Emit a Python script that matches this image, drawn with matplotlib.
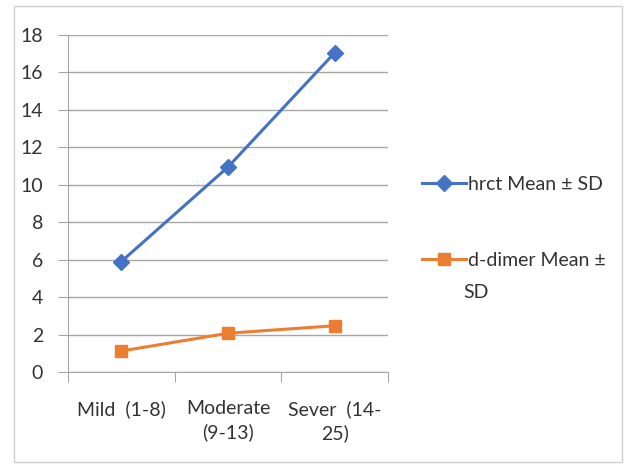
import matplotlib.pyplot as plt
from matplotlib.patches import Rectangle

categories = ['Mild  (1-8)', 'Moderate\n(9-13)', 'Sever  (14-\n25)']
hrct = [5.9, 10.95, 17.05]
ddimer = [1.12, 2.07, 2.47]
series_labels = ['hrct Mean ± SD', 'd-dimer Mean ±']

plt.rcParams['font.family'] = ['Lato', 'DejaVu Sans']

fig = plt.figure(figsize=(6.29, 4.68), dpi=100)
ax = fig.add_axes([68 / 629, 1 - 372 / 468, 320 / 629, 337 / 468])

x = range(len(categories))
ax.plot(x, hrct, color='#4472C4', lw=2.2, marker='D', ms=8.5, label=series_labels[0])
ax.plot(x, ddimer, color='#ED7D31', lw=2.2, marker='s', ms=9, label=series_labels[1])

ax.set_xlim(-0.5, 2.5)
ax.set_ylim(0, 18)
ax.set_yticks(range(0, 19, 2))
ax.set_xticks([-0.5, 0.5, 1.5, 2.5], minor=False)
ax.set_xticklabels([])
ax.set_xticks(list(x), minor=True)
ax.set_xticklabels(categories, minor=True, fontsize=14, color='#333333', linespacing=1.45, va='top')
ax.tick_params(axis='x', which='minor', length=0, pad=20)
ax.tick_params(axis='x', which='major', length=7, color='#a6a6a6', direction='out')
ax.tick_params(axis='y', length=7, color='#a6a6a6', labelsize=14, labelcolor='#333333', pad=11)
ax.grid(axis='y', color='#a6a6a6', lw=1)
ax.set_axisbelow(True)
for s in ['top', 'right']:
    ax.spines[s].set_visible(False)
for s in ['left', 'bottom']:
    ax.spines[s].set_color('#a6a6a6')

leg = ax.legend(loc='upper left', bbox_to_anchor=(414 / 629, 1 - 168 / 468),
                bbox_transform=fig.transFigure, frameon=False, fontsize=14,
                handlelength=2.3, handletextpad=0.1, labelspacing=3.05, borderaxespad=0)
for t in leg.get_texts():
    t.set_color('#333333')
fig.text(463 / 629, 1 - 293 / 468, 'SD', fontsize=14, color='#333333', va='center', ha='left')

fig.patches.append(Rectangle((14 / 629, 1 - 462 / 468), 608 / 629, 456 / 468,
                             transform=fig.transFigure, fill=False, ec='#d0d0d0', lw=1))

fig.savefig('out.png', dpi=100)
